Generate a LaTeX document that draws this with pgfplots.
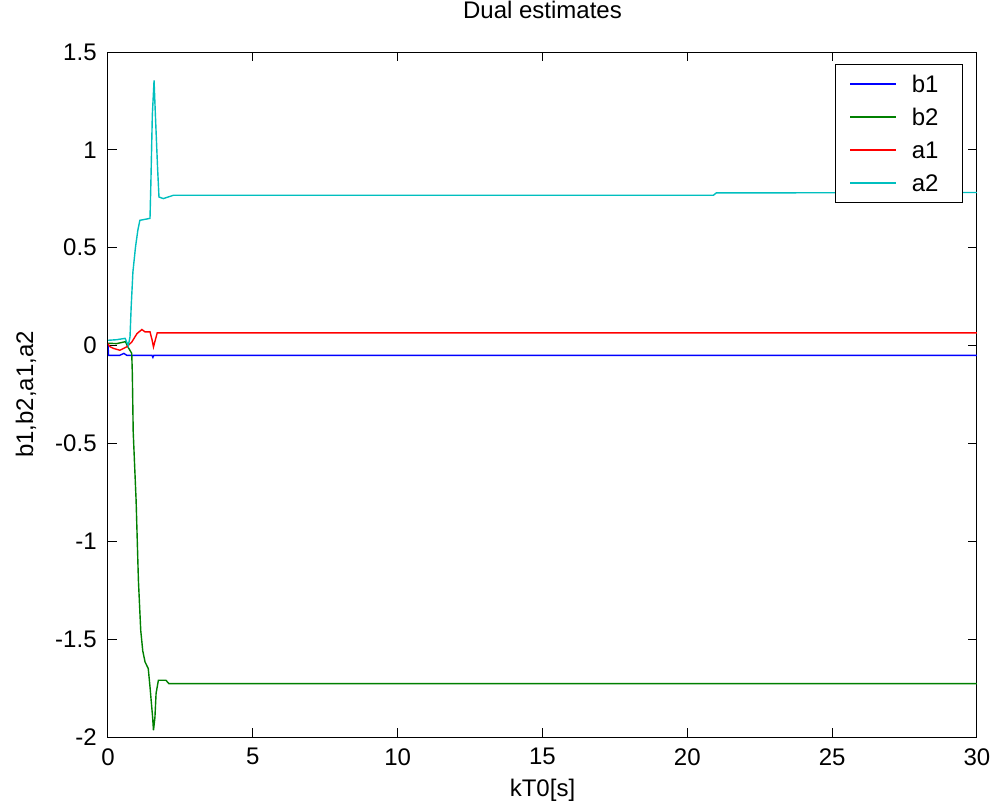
\documentclass[border=0pt]{standalone}
\usepackage{fontspec}
\setmainfont{Liberation Sans}
\usepackage{pgfplots}
\pgfplotsset{compat=1.18}
\definecolor{mblue}{rgb}{0,0,1}
\definecolor{mgreen}{rgb}{0,0.5,0}
\definecolor{mred}{rgb}{1,0,0}
\definecolor{mcyan}{rgb}{0,0.75,0.75}
\begin{document}
\begin{tikzpicture}[font=\fontsize{12}{14.4}\selectfont]
\begin{axis}[
  scale only axis,
  width=434.5pt, height=342.5pt,
  xmin=0, xmax=30, ymin=-2, ymax=1.5,
  xtick={0,5,...,30},
  ytick={-2,-1.5,-1,-0.5,0,0.5,1,1.5},
  yticklabels={-2,-1.5,-1,-0.5,0,0.5,1,1.5},
  tick align=inside,
  major tick length=4.5pt,
  axis line style={line width=0.5pt},
  every tick/.style={black, line width=0.5pt},
  /pgf/number format/assume math mode=true,
  xticklabel style={inner sep=0pt, yshift=-5.5pt},
  yticklabel style={inner sep=0pt, xshift=-5.5pt},
  title={Dual estimates},
  title style={at={(axis description cs:0.5,1)}, anchor=base, yshift=11pt, inner sep=0pt},
  xlabel={kT0[s]},
  xlabel style={at={(axis description cs:0.5,0)}, anchor=north, yshift=-21pt, inner sep=0pt},
  ylabel={b1,b2,a1,a2},
  ylabel style={at={(axis description cs:-0.0863,0.5)}, anchor=base, inner sep=0pt},
  legend cell align=left,
  legend image code/.code={\draw[#1] (0pt,0pt) -- (23pt,0pt);},
  legend style={at={(axis description cs:0.9839,0.9825)}, anchor=north east,
    draw=black, line width=0.5pt, inner xsep=6.85pt, inner ysep=5.5pt,
    row sep=8pt, column sep=7.5pt,
    nodes={inner sep=0pt, text height=8.5pt, text depth=0pt, text width=18.5pt, align=left}},
]
\addplot[mblue, line width=0.7pt] coordinates {
(0,0.005) (0.02,-0.05) (0.4,-0.05) (0.55,-0.04) (0.65,-0.05) (1.52,-0.05) (1.55,-0.06) (1.58,-0.05) (30,-0.05)
};
\addlegendentry{b1}
\addplot[mgreen, line width=0.7pt] coordinates {
(0,0.012) (0.3,0.01) (0.6,0.02) (0.7,-0.01) (0.82,-0.04) (0.84,-0.143) (0.87,-0.44) (0.97,-0.79)
(1.05,-1.2) (1.13,-1.455) (1.2,-1.56) (1.28,-1.617) (1.39,-1.65) (1.45,-1.744) (1.54,-1.898)
(1.57,-1.966) (1.62,-1.9) (1.66,-1.777) (1.74,-1.71) (2.0,-1.71) (2.1,-1.727) (30,-1.727)
};
\addlegendentry{b2}
\addplot[mred, line width=0.7pt] coordinates {
(0,0.01) (0.06,-0.005) (0.18,-0.014) (0.41,-0.024) (0.64,-0.007) (0.82,0.018) (1.0,0.061)
(1.17,0.082) (1.28,0.07) (1.45,0.07) (1.52,0.03) (1.57,-0.007) (1.63,0.027) (1.7,0.065) (30,0.065)
};
\addlegendentry{a1}
\addplot[mcyan, line width=0.7pt] coordinates {
(0,0.027) (0.3,0.03) (0.59,0.037) (0.7,0.0) (0.76,0.044) (0.8,0.197) (0.86,0.376) (0.95,0.504)
(1.03,0.589) (1.1,0.64) (1.45,0.65) (1.48,0.829) (1.53,1.176) (1.59,1.355) (1.63,1.201)
(1.71,0.913) (1.76,0.759) (1.91,0.751) (2.26,0.768) (20.9,0.768) (21.0,0.78) (30,0.782)
};
\addlegendentry{a2}
\end{axis}
\path[use as bounding box] (-54pt,-36.5pt) rectangle (441.5pt,368.5pt);
\end{tikzpicture}
\end{document}
